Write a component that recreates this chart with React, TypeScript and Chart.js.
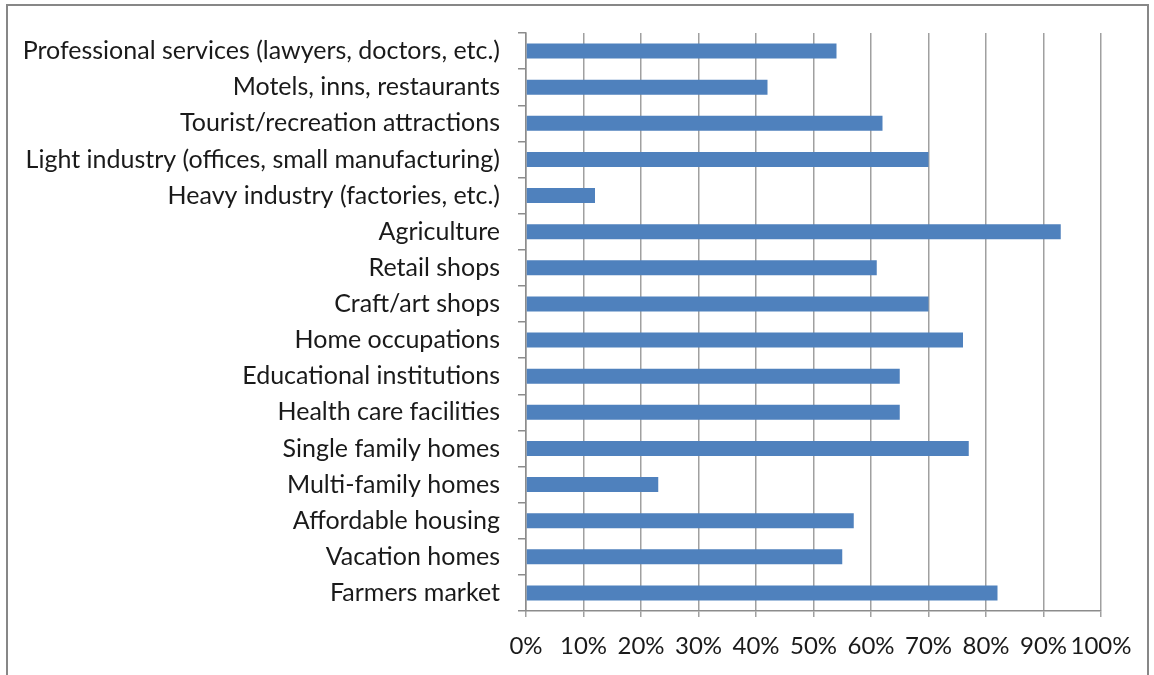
import React, { useEffect, useRef } from "react";
import { Chart, registerables } from "chart.js";

Chart.register(...registerables);

const categories: string[] = [
  "Professional services (lawyers, doctors, etc.)",
  "Motels, inns, restaurants",
  "Tourist/recreation attractions",
  "Light industry (offices, small manufacturing)",
  "Heavy industry (factories, etc.)",
  "Agriculture",
  "Retail shops",
  "Craft/art shops",
  "Home occupations",
  "Educational institutions",
  "Health care facilities",
  "Single family homes",
  "Multi-family homes",
  "Affordable housing",
  "Vacation homes",
  "Farmers market",
];

const values: number[] = [54, 42, 62, 70, 12, 93, 61, 70, 76, 65, 65, 77, 23, 57, 55, 82];

const xTickMin = 0;
const xTickMax = 100;
const xTickStep = 10;

const FONT = "Lato, 'Open Sans', sans-serif";

export default function App() {
  const ref = useRef<HTMLCanvasElement | null>(null);

  useEffect(() => {
    if (!ref.current) return;
    const chart = new Chart(ref.current, {
      type: "bar",
      data: {
        labels: categories,
        datasets: [
          {
            data: values,
            backgroundColor: "#4F81BD",
            borderWidth: 0,
            barPercentage: 0.415,
            categoryPercentage: 1,
          },
        ],
      },
      options: {
        indexAxis: "y",
        animation: false,
        responsive: false,
        maintainAspectRatio: false,
        layout: { padding: { top: 33, right: 53, bottom: 0, left: 0 } },
        plugins: { legend: { display: false }, tooltip: { enabled: false } },
        scales: {
          x: {
            min: xTickMin,
            max: xTickMax,
            ticks: {
              stepSize: xTickStep,
              callback: (v: any) => v + "%",
              color: "#1a1a1a",
              font: { family: FONT, size: 24 },
              padding: 15,
              maxRotation: 0,
              autoSkip: false,
            },
            grid: { color: "#a0a0a0", lineWidth: 1.5, tickLength: 6, tickColor: "#a0a0a0" },
            border: { color: "#8c8c8c", width: 1.5 },
            afterFit: (s: any) => {
              s.height = 64;
            },
          },
          y: {
            ticks: {
              color: "#1a1a1a",
              font: { family: FONT, size: 25 },
              padding: 18,
              autoSkip: false,
            },
            grid: {
              drawOnChartArea: false,
              drawTicks: true,
              tickLength: 8,
              tickColor: "#8c8c8c",
              lineWidth: 1.5,
            },
            border: { color: "#8c8c8c", width: 1.5 },
            afterFit: (s: any) => {
              s.width = 526;
            },
          },
        },
      },
    });
    return () => chart.destroy();
  }, []);

  return (
    <div style={{ position: "fixed", left: 0, top: 0, width: 1154, height: 675, background: "#fff", overflow: "hidden" }}>
      <div
        style={{
          position: "absolute",
          left: 6,
          top: 4,
          width: 1139,
          height: 720,
          borderTop: "2px solid #878787",
          borderLeft: "2px solid #878787",
          borderRight: "2px solid #878787",
        }}
      />
      <canvas ref={ref} width={1154} height={675} style={{ position: "absolute", left: 0, top: 0 }} />
    </div>
  );
}
